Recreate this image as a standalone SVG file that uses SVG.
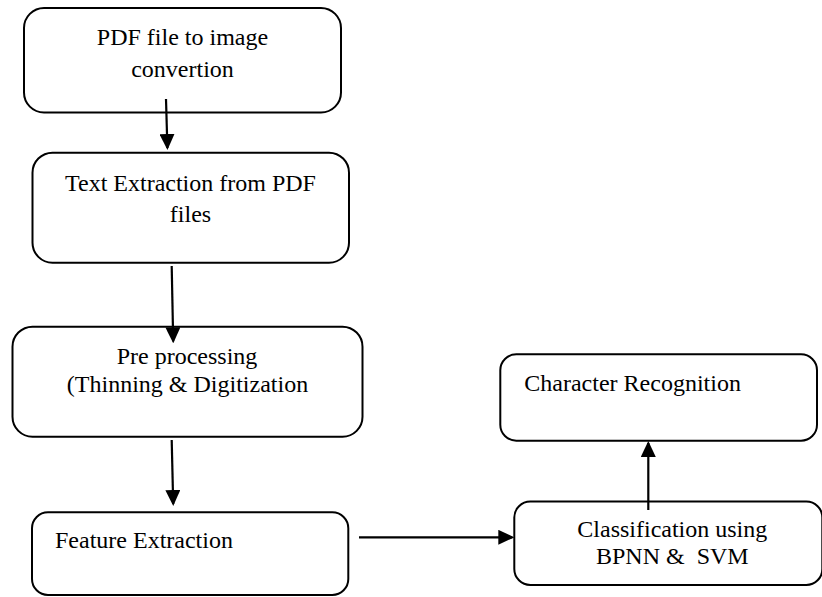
<svg xmlns="http://www.w3.org/2000/svg" width="822" height="597" viewBox="0 0 822 597">
<style>
.box{fill:#fff;stroke:#000;stroke-width:2}
text{font-family:'Liberation Serif','DejaVu Serif',serif;font-size:24px;fill:#000}
.c{text-anchor:middle}
.conn{stroke:#000;stroke-width:2.2;fill:none}
</style>
<defs>
<marker id="ah" markerUnits="userSpaceOnUse" markerWidth="16" markerHeight="15" refX="14" refY="7.5" orient="auto" viewBox="0 0 16 15">
<path d="M0,0 L16,7.5 L0,15 z" fill="#000"/>
</marker>
</defs>
<rect width="822" height="597" fill="#fff"/>
<g id="n1">
<rect class="box" x="24" y="8" width="317" height="104.5" rx="20"/>
<text class="c" x="182.5" y="45">PDF file to image</text>
<text class="c" x="182.5" y="77">convertion</text>
</g>
<g id="n2">
<rect class="box" x="32.5" y="152.7" width="316.5" height="110" rx="20"/>
<text class="c" x="190.5" y="190.5">Text Extraction from PDF</text>
<text class="c" x="190.5" y="221.5">files</text>
</g>
<g id="n3">
<rect class="box" x="12.5" y="326.7" width="350" height="110" rx="20"/>
<text class="c" x="187" y="364">Pre processing</text>
<text class="c" x="187.5" y="391.5">(Thinning &amp; Digitization</text>
</g>
<g id="n4">
<rect class="box" x="32" y="512.3" width="316.3" height="82.7" rx="16"/>
<text x="55" y="548.3">Feature Extraction</text>
</g>
<g id="n5">
<rect class="box" x="514.3" y="501.5" width="308" height="83.5" rx="16"/>
<text class="c" x="672.3" y="537.3">Classification using</text>
<text class="c" x="672.3" y="564" xml:space="preserve">BPNN &amp;  SVM</text>
</g>
<g id="n6">
<rect class="box" x="500.3" y="354.3" width="316.7" height="86.4" rx="16"/>
<text x="524.3" y="390.7">Character Recognition</text>
</g>
<g id="connectors">
<line class="conn" x1="166" y1="99" x2="167.4" y2="148" marker-end="url(#ah)"/>
<line class="conn" x1="171.7" y1="266" x2="173.2" y2="341.3" marker-end="url(#ah)"/>
<line class="conn" x1="171.7" y1="440" x2="173.2" y2="504" marker-end="url(#ah)"/>
<line class="conn" x1="359" y1="537.3" x2="512.3" y2="537.3" marker-end="url(#ah)"/>
<line class="conn" x1="648.3" y1="510" x2="648.3" y2="443" marker-end="url(#ah)"/>
</g>
</svg>
